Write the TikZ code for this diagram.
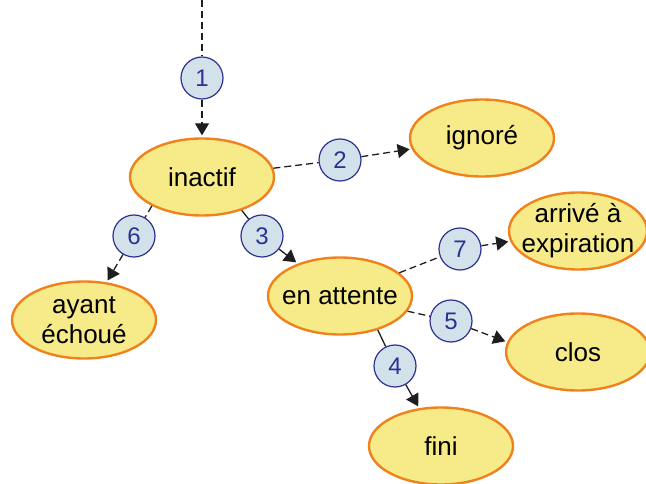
\documentclass[tikz,border=0pt]{standalone}
\usepackage{fontspec}
\setmainfont{Liberation Sans}
\usetikzlibrary{shapes.geometric,arrows.meta}
\definecolor{statefill}{HTML}{F6EB88}
\definecolor{stateline}{HTML}{F0821E}
\definecolor{stepfill}{HTML}{D3E2EA}
\definecolor{stepline}{HTML}{2E3192}
\definecolor{wire}{HTML}{1E1E1E}
\tikzset{
  state/.style={ellipse, draw=stateline, fill=statefill, line width=2.4pt,
    minimum width=144pt, minimum height=77pt, inner sep=0pt},
  statetext/.style={inner sep=0pt, align=center, text=black,
    font=\fontsize{26}{30}\selectfont},
  stepno/.style={circle, draw=stepline, fill=stepfill, line width=1.2pt,
    minimum size=42pt, inner sep=0pt, text=stepline,
    font=\fontsize{24}{28}\selectfont},
  link/.style={draw=wire, line width=1.3pt},
  dlink/.style={link, dash pattern=on 7pt off 4pt},
  tip/.style={-{Triangle[length=12pt,width=14pt]}, shorten >=2pt}
}
\begin{document}
\begin{tikzpicture}[x=1pt,y=-1pt]
\useasboundingbox (0,0) rectangle (646,484);

% states
\node[state, label={[statetext]center:inactif}] (inactif) at (202,177) {};
\node[state, label={[statetext]center:ignoré}] (ignore) at (482,138) {};
\node[state, label={[statetext]center:en attente}] (attente) at (340,296) {};
\node[state, minimum width=138pt, label={[statetext]center:arrivé à\\expiration}] (expir) at (578,231) {};
\node[state, label={[statetext]center:clos}] (clos) at (578,352) {};
\node[state, label={[statetext]center:ayant\\échoué}] (echoue) at (84,320) {};
\node[state, label={[statetext]center:fini}] (fini) at (441,446) {};

% numbered transitions
\coordinate (start) at (202,0);
\node[stepno] (s1) at (202,78) {1};
\node[stepno] (s2) at (340,160) {2};
\node[stepno] (s3) at (262,236) {3};
\node[stepno] (s4) at (395,366) {4};
\node[stepno] (s5) at (451,321) {5};
\node[stepno] (s6) at (134,236) {6};
\node[stepno] (s7) at (460,249) {7};

% connectors
\draw[dlink] (start) -- (s1);
\draw[dlink, tip] (s1) -- (inactif);
\draw[dlink] (inactif) -- (s2);
\draw[dlink, tip] (s2) -- (ignore);
\draw[link] (inactif.-40) -- (s3);
\draw[link, tip] (s3) -- (attente);
\draw[dlink] (inactif.-150) -- (s6);
\draw[dlink, tip] (s6) -- (echoue);
\draw[dlink] (attente) -- (s7);
\draw[dlink, tip] (s7) -- (expir);
\draw[dlink] (attente) -- (s5);
\draw[dlink, tip] (s5) -- (clos.172);
\draw[link] (attente.-42) -- (s4);
\draw[link, tip] (s4) -- (fini);
\end{tikzpicture}
\end{document}
